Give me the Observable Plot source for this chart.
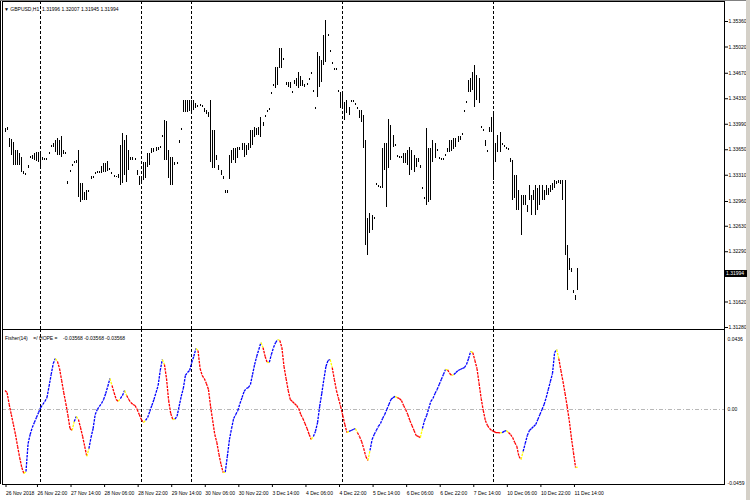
<!DOCTYPE html>
<html><head><meta charset="utf-8">
<script src="https://cdn.jsdelivr.net/npm/d3@7"></script>
<script src="https://cdn.jsdelivr.net/npm/@observablehq/plot@0.6"></script>
<style>
body{margin:0;background:#fff;}
#wrap{position:relative;width:750px;height:500px;overflow:hidden;background:#fff;font-family:"Liberation Sans",Arial,sans-serif;color:#000;}
#wrap .p{position:absolute;left:0;}
.lbl{position:absolute;font-size:5px;line-height:5px;white-space:pre;color:#000;}
</style></head><body><div id="wrap"></div>
<script>
const symbol = "GBPUSD,H1";
const lastOHLC = ["1.31996","1.32007","1.31945","1.31994"];
const lastPrice = 1.31994;
const indicatorName = "Fisher(14)";
const indicatorTag = "=/ HOPE =";
const indicatorLast = ["-0.03568","-0.03568","-0.03568"];

const high = [
1.3393,1.3395,1.3380,1.3379,1.3375,1.3364,1.3364,1.3360,1.3355,1.3336,
1.3333,1.3344,1.3356,1.3357,1.3360,1.3361,1.3361,1.3361,1.3355,1.3353,
1.3353,1.3361,1.3371,1.3373,1.3377,1.3380,1.3377,1.3383,1.3364,1.3361,
1.3323,1.3337,1.3345,1.3349,1.3351,1.3364,1.3320,1.3320,1.3308,1.3311,
1.3311,1.3329,1.3329,1.3335,1.3336,1.3336,1.3343,1.3347,1.3347,1.3349,
1.3340,1.3335,1.3331,1.3329,1.3332,1.3371,1.3387,1.3377,1.3384,1.3364,
1.3355,1.3355,1.3353,1.3337,1.3329,1.3329,1.3348,1.3348,1.3360,1.3360,
1.3367,1.3367,1.3368,1.3368,1.3369,1.3384,1.3404,1.3403,1.3364,1.3355,
1.3355,1.3348,1.3348,1.3377,1.3393,1.3431,1.3431,1.3431,1.3431,1.3431,
1.3431,1.3427,1.3424,1.3425,1.3424,1.3420,1.3417,1.3415,1.3431,1.3391,
1.3391,1.3357,1.3344,1.3337,1.3329,1.3311,1.3311,1.3357,1.3364,1.3367,
1.3367,1.3368,1.3368,1.3373,1.3373,1.3371,1.3373,1.3391,1.3391,1.3395,
1.3393,1.3395,1.3408,1.3401,1.3411,1.3417,1.3420,1.3441,1.3452,1.3475,
1.3475,1.3500,1.3500,1.3487,1.3455,1.3455,1.3455,1.3443,1.3457,1.3460,
1.3468,1.3463,1.3457,1.3452,1.3453,1.3460,1.3468,1.3444,1.3421,1.3495,
1.3489,1.3484,1.3517,1.3537,1.3519,1.3497,1.3481,1.3473,1.3473,1.3444,
1.3441,1.3441,1.3428,1.3431,1.3421,1.3431,1.3431,1.3427,1.3421,1.3417,
1.3417,1.3411,1.3377,1.3273,1.3280,1.3277,1.3275,1.3320,1.3317,1.3316,
1.3367,1.3373,1.3373,1.3405,1.3397,1.3384,1.3372,1.3357,1.3356,1.3356,
1.3360,1.3360,1.3364,1.3368,1.3364,1.3357,1.3353,1.3353,1.3344,1.3315,
1.3301,1.3393,1.3367,1.3367,1.3377,1.3373,1.3365,1.3355,1.3353,1.3353,
1.3359,1.3367,1.3377,1.3377,1.3380,1.3380,1.3383,1.3383,1.3387,1.3417,
1.3429,1.3457,1.3460,1.3468,1.3477,1.3464,1.3460,1.3396,1.3392,1.3377,
1.3364,1.3395,1.3408,1.3413,1.3373,1.3384,1.3388,1.3373,1.3371,1.3368,
1.3367,1.3353,1.3351,1.3331,1.3331,1.3311,1.3304,1.3304,1.3304,1.3291,
1.3317,1.3304,1.3311,1.3317,1.3313,1.3317,1.3317,1.3311,1.3317,1.3313,
1.3317,1.3320,1.3324,1.3323,1.3324,1.3324,1.3324,1.3324,1.3237,1.3220,
1.3207,1.3177,1.3171,1.3207];

const low = [
1.3388,1.3391,1.3368,1.3357,1.3344,1.3344,1.3344,1.3344,1.3335,1.3332,
1.3331,1.3340,1.3353,1.3352,1.3351,1.3349,1.3348,1.3341,1.3351,1.3351,
1.3351,1.3359,1.3368,1.3368,1.3361,1.3357,1.3357,1.3355,1.3359,1.3359,
1.3319,1.3335,1.3343,1.3347,1.3347,1.3301,1.3295,1.3297,1.3297,1.3297,
1.3308,1.3325,1.3327,1.3332,1.3333,1.3333,1.3333,1.3335,1.3335,1.3336,
1.3337,1.3332,1.3328,1.3328,1.3327,1.3317,1.3320,1.3331,1.3321,1.3337,
1.3351,1.3351,1.3351,1.3331,1.3317,1.3319,1.3324,1.3327,1.3341,1.3344,
1.3360,1.3361,1.3363,1.3364,1.3367,1.3381,1.3351,1.3351,1.3327,1.3317,
1.3317,1.3344,1.3345,1.3373,1.3391,1.3415,1.3415,1.3415,1.3416,1.3415,
1.3417,1.3420,1.3421,1.3423,1.3421,1.3415,1.3412,1.3408,1.3348,1.3340,
1.3340,1.3351,1.3337,1.3331,1.3325,1.3307,1.3307,1.3325,1.3347,1.3351,
1.3347,1.3353,1.3364,1.3364,1.3355,1.3357,1.3364,1.3367,1.3371,1.3381,
1.3384,1.3384,1.3381,1.3396,1.3408,1.3415,1.3417,1.3439,1.3449,1.3447,
1.3451,1.3473,1.3473,1.3484,1.3451,1.3448,1.3447,1.3440,1.3452,1.3449,
1.3447,1.3449,1.3449,1.3448,1.3451,1.3457,1.3465,1.3441,1.3419,1.3435,
1.3448,1.3455,1.3477,1.3481,1.3516,1.3495,1.3479,1.3471,1.3471,1.3441,
1.3420,1.3421,1.3404,1.3413,1.3411,1.3428,1.3428,1.3424,1.3419,1.3407,
1.3401,1.3367,1.3237,1.3224,1.3253,1.3257,1.3272,1.3317,1.3315,1.3313,
1.3313,1.3337,1.3288,1.3340,1.3351,1.3368,1.3369,1.3355,1.3353,1.3353,
1.3347,1.3347,1.3344,1.3331,1.3337,1.3335,1.3341,1.3348,1.3340,1.3312,
1.3299,1.3291,1.3295,1.3297,1.3348,1.3353,1.3363,1.3352,1.3351,1.3351,
1.3356,1.3361,1.3361,1.3363,1.3365,1.3368,1.3375,1.3377,1.3384,1.3415,
1.3427,1.3441,1.3441,1.3444,1.3421,1.3431,1.3427,1.3393,1.3389,1.3369,
1.3361,1.3388,1.3388,1.3324,1.3348,1.3361,1.3361,1.3371,1.3368,1.3365,
1.3364,1.3348,1.3297,1.3300,1.3284,1.3284,1.3251,1.3291,1.3291,1.3281,
1.3297,1.3277,1.3297,1.3277,1.3284,1.3291,1.3297,1.3297,1.3304,1.3304,
1.3308,1.3311,1.3313,1.3319,1.3320,1.3319,1.3297,1.3224,1.3177,1.3204,
1.3201,1.3173,1.3164,1.3177];

const fisher = [
0.0118,0.0105,0.0031,-0.0031,-0.0093,-0.0155,-0.0229,-0.0298,-0.0360,-0.0397,
-0.0384,-0.0211,-0.0155,-0.0112,-0.0081,-0.0050,-0.0019,0.0012,0.0031,0.0050,
0.0074,0.0143,0.0217,0.0285,0.0316,0.0298,0.0254,0.0180,0.0105,0.0037,
-0.0037,-0.0118,-0.0130,-0.0074,-0.0043,-0.0062,-0.0112,-0.0167,-0.0229,-0.0291,
-0.0242,-0.0174,-0.0118,-0.0031,0.0000,0.0019,0.0037,0.0062,0.0099,0.0143,
0.0192,0.0149,0.0105,0.0062,0.0050,0.0068,0.0087,0.0118,0.0087,0.0062,
0.0043,0.0031,0.0025,0.0000,-0.0031,-0.0062,-0.0081,-0.0068,-0.0050,-0.0012,
0.0025,0.0062,0.0105,0.0149,0.0242,0.0310,0.0279,0.0192,0.0056,-0.0025,
-0.0062,-0.0060,-0.0043,0.0019,0.0081,0.0130,0.0211,0.0229,0.0242,0.0291,
0.0329,0.0378,0.0366,0.0254,0.0211,0.0192,0.0161,0.0124,0.0019,-0.0068,
-0.0155,-0.0205,-0.0279,-0.0341,-0.0391,-0.0388,-0.0291,-0.0186,-0.0118,-0.0056,
-0.0031,-0.0006,0.0037,0.0074,0.0112,0.0130,0.0136,0.0155,0.0217,0.0279,
0.0329,0.0372,0.0415,0.0384,0.0329,0.0291,0.0293,0.0341,0.0384,0.0415,
0.0434,0.0428,0.0384,0.0267,0.0192,0.0118,0.0062,0.0050,0.0037,0.0025,
0.0006,-0.0031,-0.0056,-0.0087,-0.0118,-0.0155,-0.0186,-0.0167,-0.0136,-0.0081,
0.0019,0.0099,0.0186,0.0267,0.0304,0.0310,0.0260,0.0186,0.0118,0.0068,
0.0019,-0.0037,-0.0093,-0.0143,-0.0136,-0.0130,-0.0124,-0.0118,-0.0143,-0.0167,
-0.0198,-0.0242,-0.0291,-0.0316,-0.0254,-0.0186,-0.0155,-0.0130,-0.0105,-0.0087,
-0.0056,-0.0031,0.0000,0.0031,0.0062,0.0074,0.0081,0.0074,0.0068,0.0056,
0.0025,0.0000,-0.0031,-0.0068,-0.0099,-0.0130,-0.0161,-0.0167,-0.0174,-0.0118,
-0.0068,-0.0037,0.0006,0.0050,0.0068,0.0099,0.0124,0.0155,0.0186,0.0217,
0.0248,0.0246,0.0223,0.0211,0.0217,0.0229,0.0242,0.0248,0.0254,0.0260,
0.0279,0.0316,0.0360,0.0353,0.0304,0.0254,0.0161,0.0068,-0.0006,-0.0068,
-0.0099,-0.0118,-0.0130,-0.0136,-0.0143,-0.0144,-0.0145,-0.0143,-0.0136,-0.0130,
-0.0143,-0.0155,-0.0174,-0.0205,-0.0229,-0.0291,-0.0310,-0.0260,-0.0211,-0.0161,
-0.0130,-0.0118,-0.0105,-0.0093,-0.0062,-0.0031,0.0000,0.0031,0.0074,0.0124,
0.0174,0.0223,0.0353,0.0372,0.0316,0.0242,0.0174,0.0099,0.0019,-0.0068,
-0.0174,-0.0267,-0.0360,-0.0357];

const separators = [17, 65, 89, 161, 233];
const timeTickBars = [0,15,31,47,63,79,95,111,127,143,159,175,191,207,223,239,255,271];
const timeTickLabels = ["26 Nov 2018","26 Nov 22:00","27 Nov 14:00","28 Nov 06:00","28 Nov 22:00","29 Nov 14:00","30 Nov 06:00","30 Nov 22:00","3 Dec 14:00","4 Dec 06:00","4 Dec 22:00","5 Dec 14:00","6 Dec 06:00","6 Dec 22:00","7 Dec 14:00","10 Dec 06:00","10 Dec 22:00","11 Dec 14:00"];
const priceTicks = [1.35360,1.35020,1.34670,1.34330,1.33990,1.33650,1.33310,1.32960,1.32630,1.32290,1.31620,1.31280];
const fisherTicks = [0.0436, 0, -0.0459];
const fisherTickLabels = ["0.0436","0.00","-0.0459"];

// build tables
const bars = high.map((h, i) => ({i, high: h, low: low[i]}));
const sgn = v => v > 0 ? 1 : (v < 0 ? -1 : 0);
const segs = [];
for (let k = 0; k < fisher.length - 1; k++) {
  const s = sgn(fisher[k+1] - fisher[k]);
  const ps = k > 0 ? sgn(fisher[k] - fisher[k-1]) : s;
  const c = (s !== ps) ? "#ffff00" : (s > 0 ? "#0000ff" : "#ff0000");
  segs.push({x1: k, y1: fisher[k], x2: k + 1, y2: fisher[k+1], c});
}
const timeLabelMap = new Map(timeTickBars.map((b, k) => [b, timeTickLabels[k]]));
const fisherLabelMap = new Map(fisherTicks.map((t, k) => [t, fisherTickLabels[k]]));

const xDomain = [-1.192, 343.0];
const font = {background: "transparent", fontFamily: "'Liberation Sans', Arial, sans-serif", fontSize: "5px", color: "#000", overflow: "visible"};

const main = Plot.plot({
  width: 750, height: 330,
  marginLeft: 2, marginRight: 26, marginTop: 1, marginBottom: 1,
  x: {domain: xDomain, axis: null},
  y: {domain: [1.312533, 1.356267], axis: null},
  style: font,
  marks: [
    Plot.ruleX(separators, {x: d => d, stroke: "#000", strokeDasharray: "3,2", shapeRendering: "crispEdges"}),
    Plot.ruleX(bars, {x: "i", y1: "low", y2: "high", stroke: "#000", strokeWidth: 1, shapeRendering: "crispEdges"}),
    Plot.axisY(priceTicks, {anchor: "right", tickSize: 3, tickPadding: 1, tickFormat: d => d.toFixed(5), fontSize: 5}),
    Plot.frame({stroke: "#000"})
  ]
});

const ind = Plot.plot({
  width: 750, height: 171,
  marginLeft: 2, marginRight: 26, marginTop: 0, marginBottom: 16,
  x: {domain: xDomain, axis: null},
  y: {domain: [-0.0465, 0.0496], axis: null},
  color: {type: "identity"},
  style: font,
  marks: [
    Plot.ruleY([0], {stroke: "#b8b8b8", strokeDasharray: "4,2,1,2"}),
    Plot.ruleX(separators, {x: d => d, stroke: "#000", strokeDasharray: "3,2", shapeRendering: "crispEdges"}),
    Plot.link(segs, {x1: "x1", y1: "y1", x2: "x2", y2: "y2", stroke: "c", strokeWidth: 1.3, strokeDasharray: "2.5,1"}),
    Plot.axisY(fisherTicks, {anchor: "right", tickSize: 0, tickPadding: 3, tickFormat: d => fisherLabelMap.get(d), fontSize: 5}),
    Plot.axisX(timeTickBars, {anchor: "bottom", tickSize: 3, tickPadding: 4, textAnchor: "start", dx: 1, tickFormat: d => timeLabelMap.get(d), fontSize: 5}),
    Plot.frame({stroke: "#000"})
  ]
});

const wrap = document.getElementById("wrap");
main.classList.add("p"); main.style.top = "0px";
ind.classList.add("p"); ind.style.top = "329px";
wrap.appendChild(main);
wrap.appendChild(ind);

function addDiv(css, text) {
  const d = document.createElement("div");
  d.style.cssText = css;
  if (text != null) d.textContent = text;
  wrap.appendChild(d);
  return d;
}
// outer window edges
addDiv("position:absolute;left:0;top:0;width:1px;height:484px;background:#000;");
addDiv("position:absolute;left:0;top:0;width:750px;height:1px;background:#808080;");
addDiv("position:absolute;left:746px;top:0;width:4px;height:500px;background:#d4d0c8;");

// headers
const h1 = addDiv("", "\u25BC " + symbol + "  " + lastOHLC.join(" "));
h1.className = "lbl"; h1.style.left = "4px"; h1.style.top = "6.5px";
const h2 = addDiv("", indicatorName + "    " + indicatorTag + "    " + indicatorLast.join(" "));
h2.className = "lbl"; h2.style.left = "5px"; h2.style.top = "335.5px";

// current price marker, positioned with the main y scale
const yPx = main.scale("y").apply(lastPrice);
const box = addDiv("position:absolute;left:724px;width:23px;height:7px;background:#000;color:#fff;font-size:5px;line-height:7px;padding-left:2px;box-sizing:border-box;", lastPrice.toFixed(5));
box.style.top = (yPx - 3.5) + "px";
</script>
</body></html>
